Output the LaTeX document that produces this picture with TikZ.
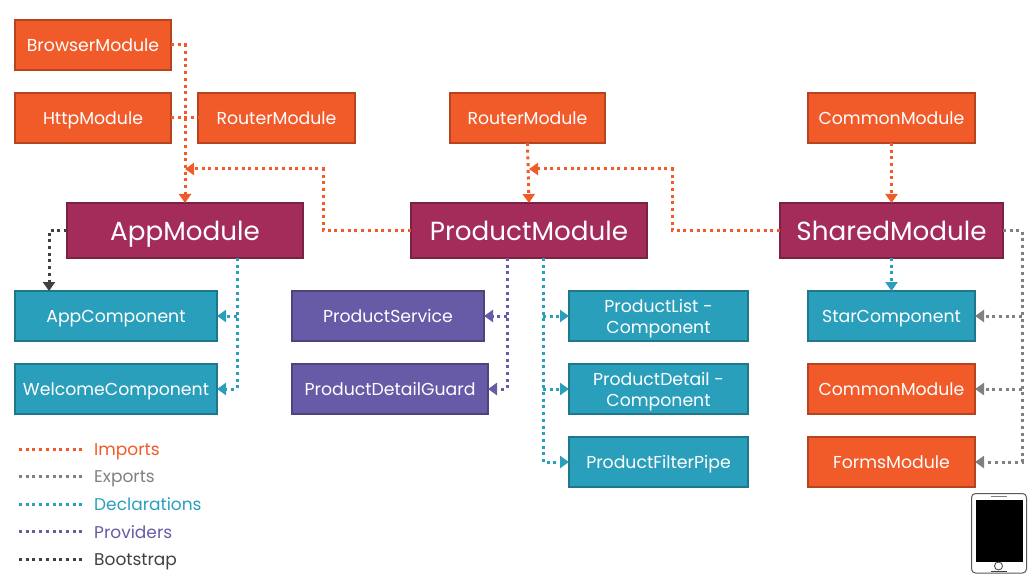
\documentclass[tikz,border=0pt]{standalone}
\usepackage{fontspec}
\setmainfont{Poppins}
\usetikzlibrary{arrows.meta}

\definecolor{orangeC}{HTML}{F15B2A}
\definecolor{orangeD}{HTML}{B5441F}
\definecolor{plumC}{HTML}{A32C5B}
\definecolor{plumD}{HTML}{7A2144}
\definecolor{tealC}{HTML}{2A9FBC}
\definecolor{tealD}{HTML}{1F778D}
\definecolor{violetC}{HTML}{675BA7}
\definecolor{violetD}{HTML}{4D447D}
\definecolor{grayC}{HTML}{808080}
\definecolor{darkC}{HTML}{404040}

% keeps every label centred on its capitals, descenders or not
\newcommand{\smallstrut}{\rule[-4pt]{0pt}{21pt}}
\newcommand{\bigstrut}{\rule[-8pt]{0pt}{36pt}}
\newcommand{\tallstrut}{\rule{0pt}{19pt}}

\tikzset{
  modbox/.style={draw, line width=1.8pt, inner sep=0pt, outer sep=0pt, text=white, align=center,
    minimum height=50pt, font=\fontsize{17.3}{21}\selectfont, execute at begin node=\smallstrut},
  orangebox/.style={modbox, fill=orangeC, draw=orangeD},
  tealbox/.style={modbox, fill=tealC, draw=tealD},
  violetbox/.style={modbox, fill=violetC, draw=violetD},
  plumbox/.style={modbox, fill=plumC, draw=plumD, minimum height=55pt,
    font=\fontsize{26.2}{30}\selectfont, execute at begin node=\bigstrut},
  link/.style={line width=3pt, dash pattern=on 3pt off 3.7pt},
  tip/.style={-{Triangle[length=9pt,width=12pt]}},
}

\begin{document}
\begin{tikzpicture}[x=1pt,y=-1pt]
\useasboundingbox (0,0) rectangle (1036,580);

% Top row
\node[orangebox, minimum width=156pt] (browser) at (93,45) {BrowserModule};
\node[orangebox, minimum width=156pt] (http) at (93,118) {HttpModule};
\node[orangebox, minimum width=157pt] (routerA) at (276.5,118) {RouterModule};
\node[orangebox, minimum width=155pt] (routerB) at (527.5,118) {RouterModule};
\node[orangebox, minimum width=167pt] (commonA) at (891.5,118) {CommonModule};

% Main modules
\node[plumbox, minimum width=236pt] (app) at (185,230.5) {AppModule};
\node[plumbox, minimum width=236pt] (product) at (529,230.5) {ProductModule};
\node[plumbox, minimum width=223pt] (shared) at (891.5,230.5) {SharedModule};

% Left column
\node[tealbox, minimum width=202pt] (appcomp) at (116,316) {AppComponent};
\node[tealbox, minimum width=202pt] (welcome) at (116,389) {WelcomeComponent};

% Providers
\node[violetbox, minimum width=192pt] (service) at (388,316) {ProductService};
\node[violetbox, minimum width=196pt] (guard) at (390,389) {ProductDetailGuard};

% Declarations
\node[tealbox, minimum width=179pt] (list) at (658.5,316) {\tallstrut ProductList -\\\smallstrut Component};
\node[tealbox, minimum width=179pt] (detail) at (658.5,389) {\tallstrut ProductDetail -\\\smallstrut Component};
\node[tealbox, minimum width=179pt] (filter) at (658.5,462) {ProductFilterPipe};

% Shared column
\node[tealbox, minimum width=167pt] (star) at (891.5,316) {StarComponent};
\node[orangebox, minimum width=167pt] (commonB) at (891.5,389) {CommonModule};
\node[orangebox, minimum width=167pt] (forms) at (891.5,462) {FormsModule};

% Bend points
\coordinate (appIn) at (185,169);
\coordinate (productIn) at (529,169);
\coordinate (bendA) at (323,169);
\coordinate (bendB) at (672,169);
\coordinate (bootTop) at (49,230.5);
\coordinate (appDecl) at (237,258);
\coordinate (provTop) at (507,258);
\coordinate (declTop) at (543,258);
\coordinate (expTop) at (1022,230.5);

% Imports
\draw[link, tip, orangeC] (browser.east) -| (app.north);
\draw[link, orangeC] (http.east) -- (routerA.west);
\draw[link, tip, orangeC] (routerB.south) -- (product.north);
\draw[link, tip, orangeC] (commonA.south) -- (shared.north);
\draw[link, tip, orangeC] (product.west) -| (bendA) -- (appIn);
\draw[link, tip, orangeC] (shared.west) -| (bendB) -- (productIn);

% Bootstrap
\draw[link, tip, darkC] (app.west) -- (bootTop) -- (bootTop |- appcomp.north);

% Declarations
\draw[link, tip, tealC] (appDecl) |- (welcome.east);
\draw[link, tip, tealC] (appDecl |- appcomp.east) -- (appcomp.east);
\draw[link, tip, tealC] (declTop) |- (filter.west);
\draw[link, tip, tealC] (declTop |- list.west) -- (list.west);
\draw[link, tip, tealC] (declTop |- detail.west) -- (detail.west);
\draw[link, tip, tealC] (shared.south) -- (star.north);

% Providers
\draw[link, tip, violetC] (provTop) |- (guard.east);
\draw[link, tip, violetC] (provTop |- service.east) -- (service.east);

% Exports
\draw[link, tip, grayC] (shared.east) -- (expTop) |- (forms.east);
\draw[link, tip, grayC] (expTop |- star.east) -- (star.east);
\draw[link, tip, grayC] (expTop |- commonB.east) -- (commonB.east);

% Legend
\foreach \lname/\lcol/\ly in {Imports/orangeC/449, Exports/grayC/476.5, Declarations/tealC/504, Providers/violetC/531.5, Bootstrap/darkC/559} {
    \coordinate (start\lname) at (19,\ly);
    \node[anchor=west, inner sep=0pt, text=\lcol, font=\fontsize{17}{18}\selectfont] (text\lname) at (94,\ly) {\smallstrut\lname};
    \coordinate (end\lname) at (82,\ly);
    \draw[link, \lcol] (start\lname) -- (end\lname);
}

% Phone
\draw[grayC!70!black, line width=1pt, rounded corners=4pt, fill=white] (971.5,493.5) rectangle (1026.5,573);
\fill[black] (976,499.5) rectangle (1022.5,561.5);
\draw[grayC, line width=1pt] (991,496.5) -- (1007,496.5);
\draw[darkC, line width=0.8pt] (998.5,566) circle (4pt);
\draw[darkC, line width=0.8pt] (991,571) -- (1007,571);
\end{tikzpicture}
\end{document}
